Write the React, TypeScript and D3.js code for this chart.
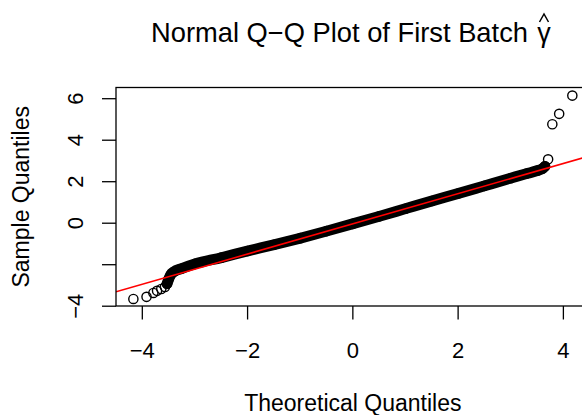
import React from "react";
import * as d3 from "d3";

const W = 582;
const H = 415;

const titleText = "Normal Q−Q Plot of First Batch";
const titleSymbol = "γ";

// axis ticks
const xTicks = [-4, -2, 0, 2, 4];
const xTickLabels = ["−4", "−2", "0", "2", "4"];
const yTicks = [-4, -2, 0, 2, 4, 6];
const yTickLabels = ["−4", "", "0", "2", "4", "6"];

// lower tail (individual circles)
const lowerTheoretical = [-4.17, -3.92, -3.79, -3.72, -3.64, -3.57];
const lowerSample = [-3.65, -3.55, -3.36, -3.26, -3.17, -3.07];

// dense central band (overlapping circles)
const bandTheoretical = [-3.53, -3.5, -3.46, -3.4, -3.25, -3.0, -2.5, -2.0, -1.5, -1.0, -0.5, 0, 0.5, 1.0, 1.5, 2.0, 2.5, 3.0, 3.3, 3.5, 3.6, 3.65];
const bandSample = [-2.92, -2.7, -2.48, -2.34, -2.18, -1.96, -1.66, -1.34, -1.04, -0.72, -0.38, -0.03, 0.33, 0.7, 1.07, 1.43, 1.8, 2.17, 2.39, 2.53, 2.63, 2.74];

// upper tail (individual circles)
const upperTheoretical = [3.71, 3.79, 3.92, 4.17];
const upperSample = [3.08, 4.77, 5.27, 6.15];

// reference line (qqline)
const lineIntercept = -0.03;
const lineSlope = 0.728;

const FONT = "'Liberation Sans', Arial, Helvetica, sans-serif";

export default function App() {
  const left = 116, right = 589.7, top = 87.5, bottom = 306;
  const x = d3.scaleLinear().domain([-4.5, 4.5]).range([left, right]);
  const y = d3.scaleLinear().domain([-3.99, 6.54]).range([bottom, top]);

  const band = bandTheoretical.map((t, i) => [t, bandSample[i]] as [number, number]);
  const bandPath = d3.line<[number, number]>().x(d => x(d[0])).y(d => y(d[1])).curve(d3.curveMonotoneX)(band) || "";

  const circles: [number, number][] = [
    ...lowerTheoretical.map((t, i) => [t, lowerSample[i]] as [number, number]),
    ...band,
    ...upperTheoretical.map((t, i) => [t, upperSample[i]] as [number, number]),
  ];

  const [dx0, dx1] = x.domain();
  const r = 4.6;
  const gx = 544;

  return (
    <svg width={W} height={H} style={{ position: "absolute", left: 0, top: 0, background: "#fff" }} fontFamily={FONT}>
      <defs>
        <clipPath id="plotclip">
          <rect x={left} y={top} width={right - left} height={bottom - top} />
        </clipPath>
      </defs>
      {/* title */}
      <text x={151} y={41.5} fontSize={27.3} fill="#000">{titleText}</text>
      <text x={gx} y={41.5} fontSize={27} textAnchor="middle" fill="#000">{titleSymbol}</text>
      <path d={`M${gx - 4.5},${22} L${gx},${14} L${gx + 4.5},${22}`} fill="none" stroke="#000" strokeWidth={1.5} />

      {/* points */}
      <path d={bandPath} fill="none" stroke="#000" strokeWidth={2 * r + 1.6} strokeLinecap="round" strokeLinejoin="round" />
      {circles.map((d, i) => (
        <circle key={i} cx={x(d[0])} cy={y(d[1])} r={r} fill="none" stroke="#000" strokeWidth={1.4} />
      ))}

      {/* qqline */}
      <line
        clipPath="url(#plotclip)"
        x1={x(dx0)} y1={y(lineIntercept + lineSlope * dx0)}
        x2={x(dx1)} y2={y(lineIntercept + lineSlope * dx1)}
        stroke="#ff0000" strokeWidth={1.6}
      />

      {/* box */}
      <rect x={left} y={top} width={right - left} height={bottom - top} fill="none" stroke="#000" strokeWidth={1.3} />

      {/* x axis */}
      {xTicks.map((t, i) => (
        <g key={"xt" + i}>
          <line x1={x(t)} x2={x(t)} y1={bottom} y2={bottom + 13.5} stroke="#000" strokeWidth={1.3} />
          <text x={x(t)} y={358} fontSize={22} textAnchor="middle" fill="#000">{xTickLabels[i]}</text>
        </g>
      ))}
      {/* y axis */}
      {yTicks.map((t, i) => (
        <g key={"yt" + i}>
          <line x1={left - 14} x2={left} y1={y(t)} y2={y(t)} stroke="#000" strokeWidth={1.3} />
          {yTickLabels[i] !== "" && (
            <text x={83.5} y={y(t)} fontSize={22} textAnchor="middle" fill="#000" transform={`rotate(-90, 83.5, ${y(t)})`}>
              {yTickLabels[i]}
            </text>
          )}
        </g>
      ))}

      {/* axis titles */}
      <text x={(left + right) / 2} y={410.5} fontSize={23} textAnchor="middle" fill="#000">Theoretical Quantiles</text>
      <text x={29} y={(top + bottom) / 2} fontSize={23} textAnchor="middle" fill="#000" transform={`rotate(-90, 29, ${(top + bottom) / 2})`}>Sample Quantiles</text>
    </svg>
  );
}
